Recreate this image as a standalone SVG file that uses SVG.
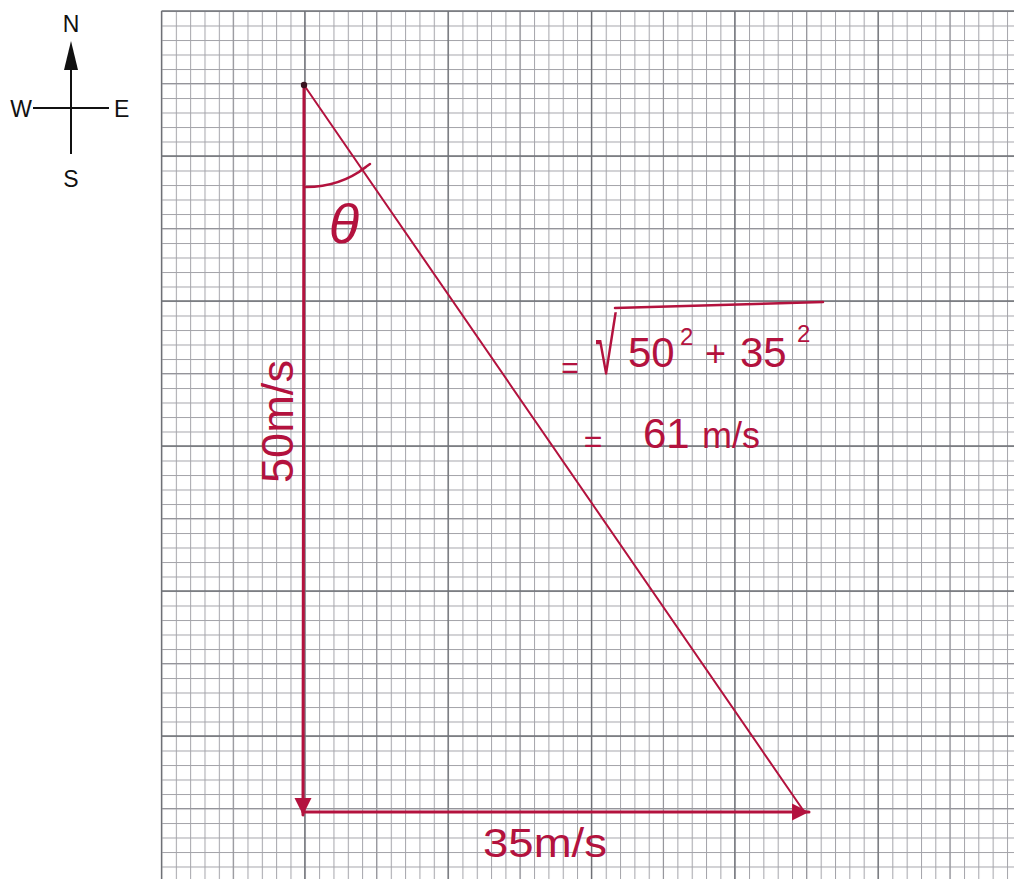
<svg xmlns="http://www.w3.org/2000/svg" width="1014" height="879" viewBox="0 0 1014 879">
<defs>
<pattern id="minor" patternUnits="userSpaceOnUse" x="161.5" y="11" width="14.33" height="14.5">
<rect x="0" y="0" width="1" height="14.5" fill="#a4a4aa"/>
<rect x="0" y="0" width="14.33" height="1" fill="#a4a4aa"/>
</pattern>
<marker id="ah" viewBox="0 0 10 10" refX="10" refY="5" markerUnits="userSpaceOnUse" markerWidth="17" markerHeight="20" orient="auto">
<path d="M0,0 L10,5 L0,10 z" fill="#b3123e"/>
</marker>
</defs>
<style>
.red{fill:#b3123e;font-family:"Liberation Sans",Arial,sans-serif}
.blk{fill:#111;font-family:"Liberation Sans",Arial,sans-serif;font-size:23px}
.maj{stroke:#6e7076;stroke-width:1.3}
.mid{stroke:#94949a;stroke-width:1}
.rl{stroke:#b3123e;fill:none;stroke-linecap:round}
</style>
<rect width="1014" height="879" fill="#fff"/>
<g id="grid">
<rect x="161.5" y="11" width="852.5" height="868" fill="url(#minor)"/>
<g class="mid">
<line x1="233.2" y1="11" x2="233.2" y2="879"/>
<line x1="376.6" y1="11" x2="376.6" y2="879"/>
<line x1="520" y1="11" x2="520" y2="879"/>
<line x1="663.3" y1="11" x2="663.3" y2="879"/>
<line x1="806.6" y1="11" x2="806.6" y2="879"/>
<line x1="950" y1="11" x2="950" y2="879"/>
<line x1="161.5" y1="83.5" x2="1014" y2="83.5"/>
<line x1="161.5" y1="228.5" x2="1014" y2="228.5"/>
<line x1="161.5" y1="373.5" x2="1014" y2="373.5"/>
<line x1="161.5" y1="518.5" x2="1014" y2="518.5"/>
<line x1="161.5" y1="663.5" x2="1014" y2="663.5"/>
<line x1="161.5" y1="808.5" x2="1014" y2="808.5"/>
</g>
<g class="maj">
<line x1="161.5" y1="11" x2="161.5" y2="879"/>
<line x1="304.8" y1="11" x2="304.8" y2="879"/>
<line x1="448.1" y1="11" x2="448.1" y2="879"/>
<line x1="591.5" y1="11" x2="591.5" y2="879"/>
<line x1="734.8" y1="11" x2="734.8" y2="879"/>
<line x1="878.1" y1="11" x2="878.1" y2="879"/>
<line x1="161.5" y1="11" x2="1014" y2="11"/>
<line x1="161.5" y1="156" x2="1014" y2="156"/>
<line x1="161.5" y1="301" x2="1014" y2="301"/>
<line x1="161.5" y1="446" x2="1014" y2="446"/>
<line x1="161.5" y1="591" x2="1014" y2="591"/>
<line x1="161.5" y1="736" x2="1014" y2="736"/>
</g>
</g>
<g id="compass">
<line x1="71" y1="68" x2="71" y2="154" stroke="#111" stroke-width="2"/>
<line x1="33" y1="108" x2="109" y2="108" stroke="#111" stroke-width="2"/>
<polygon points="71,41 64,70 78,70" fill="#111"/>
<text class="blk" x="71" y="32" text-anchor="middle">N</text>
<text class="blk" x="21" y="116.5" text-anchor="middle">W</text>
<text class="blk" x="114" y="117">E</text>
<text class="blk" x="71" y="187" text-anchor="middle">S</text>
</g>
<g id="connectors">
<line class="rl" x1="304" y1="85" x2="303" y2="815" stroke-width="3" marker-end="url(#ah)"/>
<line class="rl" x1="303" y1="812" x2="809" y2="812" stroke-width="3" marker-end="url(#ah)"/>
<line class="rl" x1="304" y1="85" x2="803" y2="810" stroke-width="2"/>
</g>
<g id="vertex">
<circle cx="304" cy="85" r="3.2" fill="#3a1420"/>
</g>
<g id="angle">
<path class="rl" d="M306,187 Q340,187 366,167 M360,171 L370,164" stroke-width="2.5"/>
<text class="red" x="344" y="243" font-size="56" font-style="italic" text-anchor="middle">θ</text>
</g>
<g id="label-50">
<text class="red" transform="translate(293,483) rotate(-90)" font-size="44" textLength="123" lengthAdjust="spacingAndGlyphs">50m/s</text>
</g>
<g id="label-35">
<text class="red" x="483" y="857" font-size="40" textLength="124" lengthAdjust="spacingAndGlyphs">35m/s</text>
</g>
<g id="resultant">
<text class="red" x="570" y="378" font-size="30" text-anchor="middle">=</text>
<text class="red" transform="translate(595,374) scale(1,1.95)" font-size="40">√</text>
<line class="rl" x1="615" y1="308" x2="823" y2="302" stroke-width="2.5"/>
<text class="red" x="628" y="367" font-size="42">50</text>
<text class="red" x="680" y="345" font-size="24">2</text>
<text class="red" x="705" y="366" font-size="36">+</text>
<text class="red" x="740" y="367" font-size="42">35</text>
<text class="red" x="797" y="342" font-size="24">2</text>
<text class="red" x="593" y="452" font-size="32" text-anchor="middle">=</text>
<text class="red" x="643" y="448" font-size="42">61</text>
<text class="red" x="702" y="448" font-size="36">m/s</text>
</g>
</svg>
